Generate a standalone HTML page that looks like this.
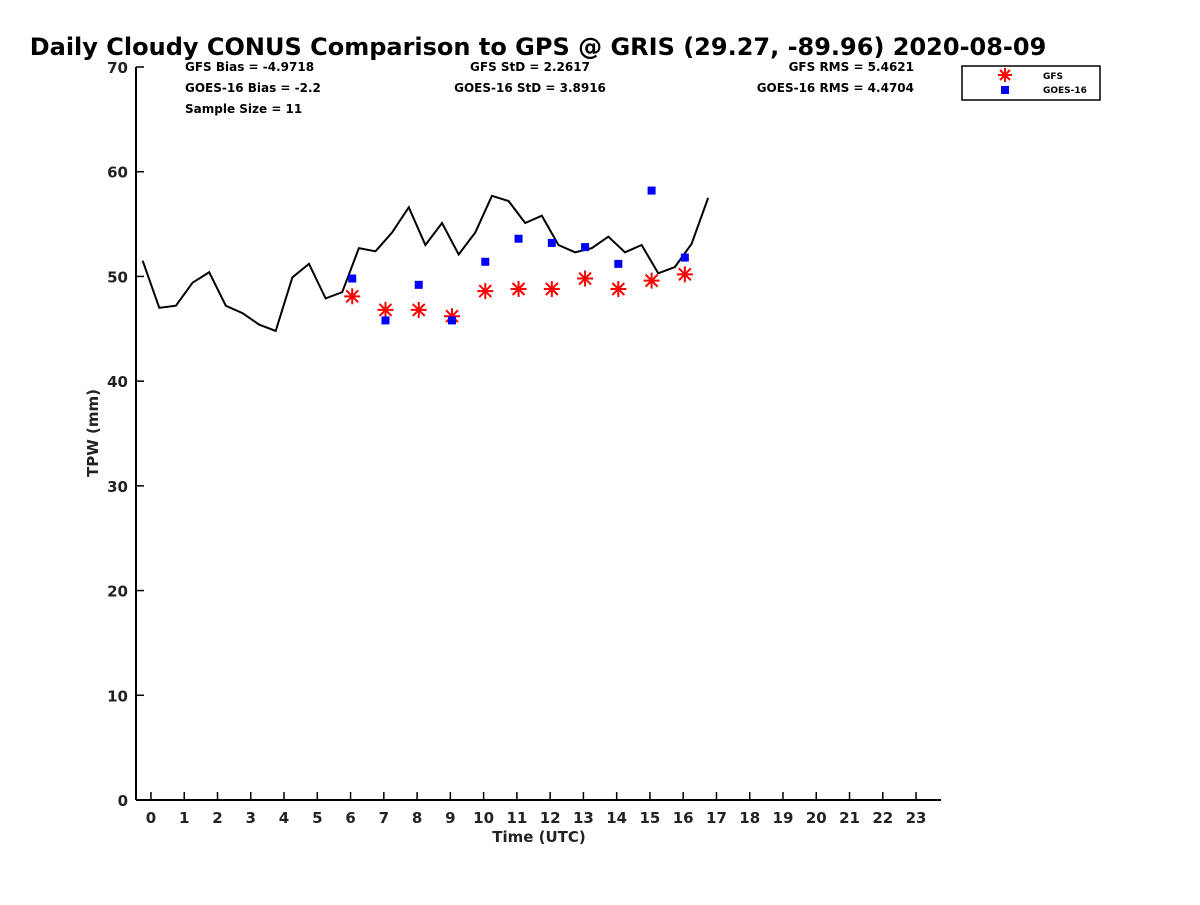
<!DOCTYPE html>
<html><head><meta charset="utf-8">
<style>
body{margin:0;background:#fff;width:1200px;height:900px;overflow:hidden;font-family:"Liberation Sans","DejaVu Sans",sans-serif;}
svg text{font-family:"DejaVu Sans","Liberation Sans",sans-serif;font-weight:bold;}
</style></head>
<body>
<svg id="chart" width="1200" height="900" xmlns="http://www.w3.org/2000/svg">
<text x="538" y="55" font-size="24" text-anchor="middle" fill="#000">Daily Cloudy CONUS Comparison to GPS @ GRIS (29.27, -89.96) 2020-08-09</text>
<g font-size="12" fill="#000">
<text x="185" y="71">GFS Bias = -4.9718</text>
<text x="185" y="92">GOES-16 Bias = -2.2</text>
<text x="185" y="113">Sample Size = 11</text>
<text x="530" y="71" text-anchor="middle">GFS StD = 2.2617</text>
<text x="530" y="92" text-anchor="middle">GOES-16 StD = 3.8916</text>
<text x="914" y="71" text-anchor="end">GFS RMS = 5.4621</text>
<text x="914" y="92" text-anchor="end">GOES-16 RMS = 4.4704</text>
</g>
<g id="axes"></g>
<g id="marks"></g>
<g>
<rect x="962" y="66" width="138" height="34" fill="#fff" stroke="#000" stroke-width="1.5"/>
<g stroke="#f00" stroke-width="2"><line x1="1005" y1="68" x2="1005" y2="82"/><line x1="998" y1="75" x2="1012" y2="75"/><line x1="1000" y1="70" x2="1010" y2="80"/><line x1="1000" y1="80" x2="1010" y2="70"/></g>
<rect x="1001" y="86" width="8" height="8" fill="#00f"/>
<text x="1043" y="79" font-size="9">GFS</text>
<text x="1043" y="93" font-size="9">GOES-16</text>
</g>
</svg>
<script>
const gpsHours=[-0.25,0.25,0.75,1.25,1.75,2.25,2.75,3.25,3.75,4.25,4.75,5.25,5.75,6.25,6.75,7.25,7.75,8.25,8.75,9.25,9.75,10.25,10.75,11.25,11.75,12.25,12.75,13.25,13.75,14.25,14.75,15.25,15.75,16.25,16.75];
const gpsValues=[51.5,47,47.2,49.4,50.4,47.2,46.5,45.4,44.8,49.9,51.2,47.9,48.5,52.7,52.4,54.2,56.6,53,55.1,52.1,54.2,57.7,57.2,55.1,55.8,53,52.3,52.7,53.8,52.3,53,50.3,50.9,53.1,57.5];
const satHours=[6,7,8,9,10,11,12,13,14,15,16];
const gfsValues=[48.1,46.8,46.8,46.2,48.6,48.8,48.8,49.8,48.8,49.6,50.2];
const goesValues=[49.8,45.8,49.2,45.8,51.4,53.6,53.2,52.8,51.2,58.2,51.8];
const xTicks=[0,1,2,3,4,5,6,7,8,9,10,11,12,13,14,15,16,17,18,19,20,21,22,23];
const yTicks=[0,10,20,30,40,50,60,70];

const NS="http://www.w3.org/2000/svg";
const X0=136,X1=941,Y0=800,Y1=67;
const xMin=-0.45,xMax=23.75,yMin=0,yMax=70;
const sx=v=>X0+(v-xMin)/(xMax-xMin)*(X1-X0);
const sy=v=>Y0-(v-yMin)/(yMax-yMin)*(Y0-Y1);
function mk(t,a,p){const e=document.createElementNS(NS,t);for(const k in a)e.setAttribute(k,a[k]);p.appendChild(e);return e;}
const axes=document.getElementById('axes'),marks=document.getElementById('marks');
const xa=mk('line',{x1:X0,y1:Y0,x2:X1,y2:Y0,stroke:'#000','stroke-width':2},axes);


const ya=mk('line',{x1:X0,y1:Y0,x2:X0,y2:Y1,stroke:'#000','stroke-width':2},axes);


xTicks.forEach(h=>{const x=sx(h);
 mk('line',{x1:x,y1:Y0,x2:x,y2:Y0-8,stroke:'#000','stroke-width':1.5},axes);
 const t=mk('text',{x:x,y:823,'font-size':15,'text-anchor':'middle',fill:'#222'},axes);t.textContent=h;
 
 });
yTicks.forEach(v=>{const y=sy(v);
 mk('line',{x1:X0,y1:y,x2:X0+8,y2:y,stroke:'#000','stroke-width':1.5},axes);
 const t=mk('text',{x:128,y:y+6,'font-size':15,'text-anchor':'end',fill:'#222'},axes);t.textContent=v;
 
 });
const xt=mk('text',{x:539,y:842,'font-size':15,'text-anchor':'middle',fill:'#222'},axes);xt.textContent='Time (UTC)';


const yt=mk('text',{x:0,y:0,'font-size':15,'text-anchor':'middle',fill:'#222',transform:'translate(98,433) rotate(-90)'},axes);yt.textContent='TPW (mm)';


const pl=mk('polyline',{points:gpsHours.map((h,i)=>sx(h)+','+sy(gpsValues[i])).join(' '),fill:'none',stroke:'#000','stroke-width':2},marks);


satHours.forEach((h,i)=>{
 const x=sx(h+0.05),y=sy(gfsValues[i]);
 const g=mk('g',{stroke:'#f00','stroke-width':2},marks);
 
 
 mk('line',{x1:x,y1:y-8,x2:x,y2:y+8},g);mk('line',{x1:x-8,y1:y,x2:x+8,y2:y},g);
 mk('line',{x1:x-6,y1:y-6,x2:x+6,y2:y+6},g);mk('line',{x1:x-6,y1:y+6,x2:x+6,y2:y-6},g);
 const r=mk('rect',{x:sx(h+0.05)-4,y:sy(goesValues[i])-4,width:8,height:8,fill:'#00f'},marks);
 
 
});
</script>
</body></html>
